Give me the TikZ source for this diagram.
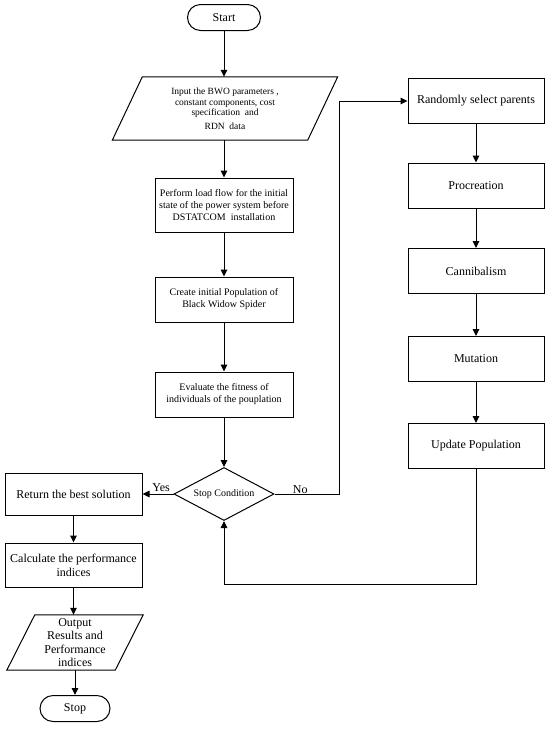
\documentclass[tikz,border=0pt]{standalone}
\usepackage{fontspec}
\setmainfont{Liberation Serif}
\usetikzlibrary{shapes.geometric,shapes.misc,arrows.meta}
\begin{document}
\begin{tikzpicture}[x=1pt,y=-1pt,
  every node/.style={inner sep=1pt, align=center},
  box/.style={draw, line width=1pt, minimum width=138pt},
  rbox/.style={draw, line width=1pt, minimum width=136pt, minimum height=45pt, font=\fontsize{12}{14}\selectfont},
  term/.style={draw, line width=1pt, rounded rectangle, minimum height=26pt, font=\fontsize{12}{14}\selectfont},
  arr/.style={-{Triangle[length=7pt,width=6.5pt]}, line width=1pt},
  conn/.style={line width=1pt},
  lbl/.style={font=\fontsize{12}{14}\selectfont}
]
\useasboundingbox (0,0) rectangle (550,729);
\fill[white] (0,0) rectangle (550,729);

% main column
\node[term, minimum width=75pt] (start) at (224,17.5) {Start};
\node[minimum width=195pt, minimum height=63pt, font=\fontsize{9.5}{10.5}\selectfont] (in) at (225,108.5)
  {Input the BWO parameters ,\\ constant components, cost\\ specification\ \ and\\[3pt] RDN\ \ data};
\draw[conn] ([xshift=15pt]in.north west) -- ([xshift=15pt]in.north east)
  -- ([xshift=-15pt]in.south east) -- ([xshift=-15pt]in.south west) -- cycle;
\node[box, minimum height=54pt, font=\fontsize{10}{12}\selectfont] (p1) at (224,205)
  {Perform load flow for the initial\\ state of the power system before\\ DSTATCOM\ \ installation};
\node[box, minimum height=45pt, font=\fontsize{10}{12}\selectfont] (p2) at (224,299.5)
  {Create initial Population of\\ Black Widow Spider};
\node[box, minimum height=45pt, font=\fontsize{10}{12}\selectfont] (p3) at (224,394.5)
  {Evaluate the fitness of\\ individuals of the pouplation};
\node[draw, line width=1pt, diamond, aspect=2, inner sep=0pt, minimum width=100pt, minimum height=53pt,
  font=\fontsize{10}{12}\selectfont] (dec) at (224,494) {Stop Condition};

% left column
\node[box, minimum width=137pt, minimum height=42pt, font=\fontsize{12}{14}\selectfont] (ret) at (73.5,494)
  {Return the best solution};
\node[box, minimum width=137pt, minimum height=44pt, font=\fontsize{12}{14}\selectfont] (calc) at (73.5,565)
  {Calculate the performance\\ indices};
\node[minimum width=108pt, minimum height=55pt, inner sep=0pt, font=\fontsize{12}{13.5}\selectfont] (out) at (75,642.5)
  {Output\\ Results and\\ Performance\\ indices};
\draw[conn] ([xshift=14pt]out.north west) -- ([xshift=14pt]out.north east)
  -- ([xshift=-14pt]out.south east) -- ([xshift=-14pt]out.south west) -- cycle;
\node[term, minimum width=72pt] (stop) at (75,708.5) {Stop};

% right column
\node[rbox] (r1) at (476,101) {Randomly select parents};
\node[rbox] (r2) at (476,185.5) {Procreation};
\node[rbox] (r3) at (476,271) {Cannibalism};
\node[rbox] (r4) at (476,359) {Mutation};
\node[rbox] (r5) at (476,446) {Update Population};

% connectors
\draw[arr] (start.south) -- (start.south |- in.north);
\draw[arr] (p1.north |- in.south) -- (p1.north);
\draw[arr] (p1) -- (p2);
\draw[arr] (p2) -- (p3);
\draw[arr] (p3) -- (dec);
\draw[arr] (dec.west) -- (ret.east) node[lbl, pos=0.4, above=1pt] {Yes};
\draw[arr] (ret) -- (calc);
\draw[arr] (calc.south) -- (calc.south |- out.north);
\draw[arr] (stop.north |- out.south) -- (stop.north);

\coordinate (nox) at (339,0);
\draw[arr] (dec.east) -- (dec.east -| nox) node[lbl, pos=0.4, above=-1pt] {No}
  -- (nox |- r1.west) -- (r1.west);
\draw[arr] (r1) -- (r2);
\draw[arr] (r2) -- (r3);
\draw[arr] (r3) -- (r4);
\draw[arr] (r4) -- (r5);
\coordinate (loopy) at (0,584);
\draw[arr] (r5.south) -- (r5.south |- loopy) -- (dec.south |- loopy) -- (dec.south);
\end{tikzpicture}
\end{document}
